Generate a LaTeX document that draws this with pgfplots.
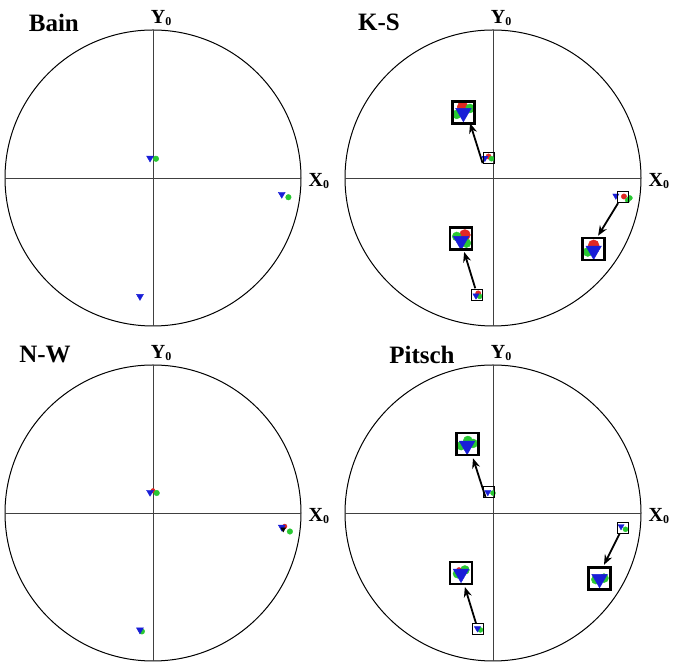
\documentclass[border=0pt]{standalone}
\usepackage{fontspec}
\setmainfont{Liberation Serif}
\usepackage{pgfplots}
\pgfplotsset{compat=1.18}
\usetikzlibrary{arrows.meta}
\definecolor{mblue}{RGB}{25,30,215}
\definecolor{mgreen}{RGB}{40,200,50}
\definecolor{mred}{RGB}{225,40,35}
\pgfplotsset{
  pf/.style={width=296pt,height=296pt,scale only axis,xmin=-1,xmax=1,ymin=-1,ymax=1,
    hide axis,clip=false,anchor=center},
  tri/.style={only marks,mark=triangle*,mark size=#1,color=mblue,mark options={rotate=180,fill=mblue,draw=mblue}},
  grn/.style={only marks,mark=*,mark size=#1,color=mgreen,mark options={fill=mgreen,draw=mgreen}},
  rd/.style={only marks,mark=*,mark size=#1,color=mred,mark options={fill=mred,draw=mred}},
  sbox/.style={only marks,mark=square,mark size=5.5pt,mark options={draw=black,line width=1pt}},
  bbox/.style={only marks,mark=square,mark size=11pt,mark options={draw=black,line width=2.8pt}},
  arr/.style={black,line width=1.8pt,-{Stealth[length=10pt,width=8pt]}},
}
\newcommand{\frameit}{%
  \draw[black,line width=1pt] (axis cs:0,0) circle [radius=148pt];
  \draw[black!75,line width=0.9pt] (axis cs:-1,0) -- (axis cs:1,0);
  \draw[black!75,line width=0.9pt] (axis cs:0,-1) -- (axis cs:0,1);
  \node[anchor=south,font=\fontsize{20}{20}\selectfont\bfseries,inner sep=0pt] at (axis cs:0.055,1.03) {Y\raisebox{-0.15ex}{\fontsize{12}{12}\selectfont 0}};
  \node[anchor=west,font=\fontsize{20}{20}\selectfont\bfseries,inner sep=0pt] at (axis cs:1.05,-0.02) {X\raisebox{-0.15ex}{\fontsize{12}{12}\selectfont 0}};
}
\begin{document}
\begin{tikzpicture}[x=1pt,y=1pt]
\useasboundingbox (0,0) rectangle (678,664);
% ---------------- Bain
\begin{axis}[pf,at={(153pt,486pt)}]
\frameit
\node[font=\fontsize{25}{25}\selectfont\bfseries] at (axis cs:-0.67,1.05) {Bain};
\addplot[grn=2.8pt] coordinates {(0.02,0.13) (0.915,-0.13)};
\addplot[tri=4pt] coordinates {(-0.02,0.135) (0.87,-0.11) (-0.088,-0.80)};
\end{axis}
% ---------------- K-S
\begin{axis}[pf,at={(493pt,486pt)}]
\frameit
\node[font=\fontsize{25}{25}\selectfont\bfseries] at (axis cs:-0.77,1.05) {K-S};
% small groups
\addplot[rd=2.7pt] coordinates {(-0.03,0.145) (0.885,-0.125) (-0.10,-0.78)};
\addplot[grn=2.5pt] coordinates {(-0.01,0.13) (0.91,-0.15) (-0.09,-0.80) (0.925,-0.135)};
\addplot[tri=3.6pt] coordinates {(-0.055,0.135) (0.83,-0.12) (-0.115,-0.795)};
\addplot[sbox] coordinates {(-0.03,0.135) (0.875,-0.13) (-0.105,-0.79)};
% big boxes
\addplot[rd=5.5pt] coordinates {(-0.205,0.48) (0.68,-0.455) (-0.19,-0.385)};
\addplot[grn=4.5pt] coordinates {(-0.245,0.43) (-0.155,0.47) (0.64,-0.50) (-0.245,-0.395) (-0.18,-0.44)};
\addplot[tri=9pt] coordinates {(-0.20,0.44) (0.68,-0.49) (-0.216,-0.425)};
\addplot[bbox] coordinates {(-0.20,0.445) (0.68,-0.48) (-0.216,-0.41)};
% arrows
\addplot[arr] coordinates {(-0.07,0.10) (-0.155,0.37)};
\addplot[arr] coordinates {(0.845,-0.17) (0.71,-0.39)};
\addplot[arr] coordinates {(-0.12,-0.745) (-0.195,-0.50)};
\end{axis}
% ---------------- N-W
\begin{axis}[pf,at={(153pt,151pt)}]
\frameit
\node[font=\fontsize{25}{25}\selectfont\bfseries] at (axis cs:-0.73,1.07) {N-W};
\addplot[rd=2.3pt] coordinates {(0.0,0.15) (0.89,-0.09)};
\addplot[grn=2.8pt] coordinates {(0.025,0.135) (0.925,-0.125) (-0.075,-0.80)};
\addplot[tri=4pt] coordinates {(-0.02,0.14) (0.87,-0.095) (-0.088,-0.79)};
\addplot[only marks,mark=triangle*,mark size=2.7pt,black,mark options={rotate=180}] coordinates {(0.88,-0.11)};
\end{axis}
% ---------------- Pitsch
\begin{axis}[pf,at={(493pt,151pt)}]
\frameit
\node[font=\fontsize{25}{25}\selectfont\bfseries] at (axis cs:-0.48,1.07) {Pitsch};
% small groups
\addplot[grn=2.5pt] coordinates {(0.0,0.135) (0.895,-0.11) (-0.085,-0.79)};
\addplot[tri=3.6pt] coordinates {(-0.035,0.14) (0.865,-0.09) (-0.105,-0.78)};
\addplot[sbox] coordinates {(-0.025,0.14) (0.875,-0.10) (-0.10,-0.785)};
% big boxes
\addplot[grn=4.5pt] coordinates {(-0.215,0.455) (-0.135,0.47) (-0.17,0.49) (0.695,-0.45) (0.75,-0.44) (-0.19,-0.385) (-0.24,-0.41)};
\addplot[rd=2.5pt] coordinates {(-0.23,-0.385)};
\addplot[tri=9pt] coordinates {(-0.175,0.455) (0.72,-0.445) (-0.216,-0.41)};
\addplot[bbox] coordinates {(-0.17,0.466) (0.72,-0.44) (-0.216,-0.405)};
% arrows
\addplot[arr] coordinates {(-0.05,0.105) (-0.135,0.37)};
\addplot[arr] coordinates {(0.855,-0.14) (0.75,-0.35)};
\addplot[arr] coordinates {(-0.115,-0.745) (-0.19,-0.50)};
\end{axis}
\end{tikzpicture}
\end{document}
